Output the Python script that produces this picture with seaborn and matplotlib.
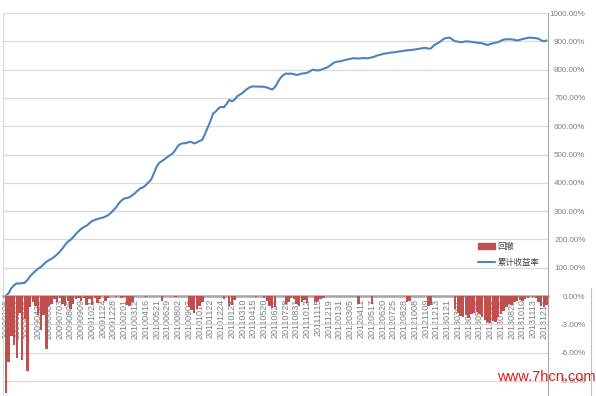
import numpy as np
import pandas as pd
import seaborn as sns
import matplotlib.pyplot as plt
from matplotlib.lines import Line2D
from matplotlib.patches import Patch
from matplotlib.ticker import FuncFormatter

# cumulative return (%) sampled every ~6 trading days, 2009-01 .. 2013-12
cum_return = [
    2, 10, 28, 38, 45, 44, 46, 47, 57, 70,
    80, 89, 97, 103, 112, 121, 127, 132, 139, 147,
    157, 168, 181, 192, 199, 208, 220, 229, 238, 244,
    249, 257, 265, 269, 272, 275, 277, 281, 286, 294,
    304, 314, 328, 338, 345, 346, 350, 356, 364, 373,
    381, 384, 392, 402, 412, 434, 457, 471, 477, 484,
    491, 498, 504, 517, 531, 538, 540, 540, 545, 544,
    539, 543, 548, 552, 573, 596, 618, 645, 652, 663,
    669, 667, 678, 693, 688, 694, 706, 712, 718, 727,
    734, 739, 741, 740, 740, 740, 739, 737, 733, 730,
    738, 755, 770, 780, 786, 785, 786, 784, 781, 783,
    786, 787, 789, 794, 800, 798, 797, 799, 803, 806,
    811, 818, 825, 828, 829, 831, 834, 836, 838, 840,
    840, 839, 840, 841, 840, 841, 843, 846, 850, 852,
    855, 857, 858, 860, 861, 862, 864, 865, 867, 868,
    869, 870, 871, 873, 874, 876, 877, 874, 875, 885,
    891, 896, 903, 910, 912, 913, 906, 900, 899, 897,
    898, 900, 899, 898, 897, 895, 894, 893, 890, 887,
    890, 893, 895, 897, 902, 906, 907, 907, 907, 905,
    903, 905, 908, 910, 912, 913, 912, 911, 909, 903,
    900, 903,
]

# drawdown (%) on the same sampling
drawdown = [
    -10.3, -7.0, -4.2, -5.2, -6.6, -1.8, -6.8, -2.4, -7.9, -1.2,
    -0.6, -1.0, -2.0, -3.6, -2.0, -5.6, -1.0, -0.8, -0.3, -0.6,
    -0.2, -0.8, -1.0, -0.5, -1.4, -0.8, -0.3, -0.2, -0.5, -0.2,
    -0.9, -0.3, -0.9, -0.2, -0.7, -0.3, 0, -0.5, -0.2, 0,
    0, -0.1, 0, -0.2, -0.1, -0.9, -1.1, -0.6, 0, 0,
    0, 0, -0.1, 0, 0, 0, 0, 0, -0.5, 0,
    0, 0, 0, -0.1, 0, 0, 0, 0, -1.2, -1.5,
    -1.8, -1.4, -1.0, -0.6, 0, 0, 0, 0, 0, 0,
    0, -0.3, 0, -1.0, -0.9, -0.4, 0, 0, 0, 0,
    0, 0, 0, -0.1, 0, 0, -0.2, -0.5, -1.0, -1.3,
    -1.2, 0, 0, 0, -0.8, -0.6, -0.2, -0.3, -0.8, -1.0,
    -0.6, -0.4, -0.7, 0, 0, -0.6, -0.5, -0.3, -0.2, 0,
    0, 0, 0, 0, 0, 0, 0, 0, 0, 0,
    0, -0.8, 0, 0, 0, 0, -0.8, 0, 0, 0,
    0, 0, 0, 0, 0, 0, 0, 0, 0, -0.6,
    -0.5, 0, 0, 0, 0, 0, 0, -1.1, -0.9, 0,
    0, 0, 0, 0, 0, 0, 0, -1.4, -1.8, -2.1,
    -2.2, -2.0, -2.3, -1.9, -1.8, -1.7, -1.9, -2.2, -2.5, -2.7,
    -2.9, -2.6, -2.8, -2.2, -1.9, -1.6, -1.2, -0.8, -0.9, -0.6,
    -0.5, -0.4, -0.5, -0.3, -0.2, 0, -0.1, -0.2, -0.6, -1.0,
    -1.2, -0.9,
]

date_labels = [
    "20090105", "20090213", "20090319", "20090423", "20090603", "20090703",
    "20090806", "20090909", "20091021", "20091124", "20091228",
    "20100201", "20100312", "20100416", "20100521", "20100629", "20100802",
    "20100903", "20101014", "20101122", "20101224",
    "20110128", "20110310", "20110415", "20110520", "20110624", "20110728",
    "20110831", "20111012", "20111115", "20111219",
    "20120131", "20120305", "20120411", "20120517", "20120620", "20120725",
    "20120828", "20121008", "20121109", "20121213",
    "20130121", "20130301", "20130408", "20130515", "20130621", "20130726",
    "20130828", "20131010", "20131113", "20131217",
]

series_names = ["回撤", "累计收益率"]

RED = "#C0504D"
BLUE = "#4F81BD"
GRID = "#D9D9D9"
TXT = "#7F7F7F"

sns.set_style("white")
plt.rcParams['font.family'] = ['Liberation Sans', 'Noto Sans CJK SC', 'DejaVu Sans']

df = pd.DataFrame({'idx': np.arange(len(cum_return)), 'cum': cum_return, 'dd': drawdown})

fig = plt.figure(figsize=(5.96, 3.96), dpi=100)
ax = fig.add_axes([3 / 596, 0, 545 / 596, 383 / 396])
ax2 = ax.twinx()

sns.lineplot(data=df, x='idx', y='cum', color=BLUE, lw=1.5, ax=ax)
sns.barplot(data=df, x='idx', y='dd', native_scale=True, width=0.9, color=RED,
            saturation=1, linewidth=0, errorbar=None, ax=ax2)

ax.set_xlim(-1.1, 201.5)
ax.set_ylim(-353, 1000)
ax2.set_ylim(-353 * 0.03, 30)

# line axis: gridlines every 100%, labels only for positive values
ax.set_yticks(np.arange(-300, 1001, 100))
ax.yaxis.set_major_formatter(FuncFormatter(lambda v, p: f"{v:.2f}%" if v > 0 else ""))
ax.yaxis.grid(True, color=GRID, lw=0.9)
ax.xaxis.grid(False)
ax.yaxis.tick_right()
ax.tick_params(axis='y', length=0, pad=27, labelsize=5.8, labelcolor=TXT)
for lab in ax.get_yticklabels():
    lab.set_horizontalalignment('right')

# drawdown axis labels
ax2.set_yticks([0, -3, -6, -9])
ax2.set_yticklabels(["0.00%", "-3.00%", "-6.00%", "-9.00%"])
ax2.grid(False)
ax2.tick_params(axis='y', length=0, pad=27, labelsize=5.8, labelcolor=TXT)
for lab in ax2.get_yticklabels():
    lab.set_horizontalalignment('right')

# category axis sits on the zero line
ax.set_xticks(df['idx'][::4])
ax.set_xticklabels(date_labels)
ax.tick_params(axis='x', length=0, pad=2, labelsize=6.5, labelcolor=TXT, labelrotation=90)
ax.spines['bottom'].set_position(('data', 0))
ax.spines['bottom'].set_color('#A6A6A6')
ax.spines['bottom'].set_linewidth(1.8)
ax.spines['top'].set_visible(False)
ax.spines['left'].set_color(GRID)
ax.spines['right'].set_color('#A6A6A6')
for s in ax2.spines.values():
    s.set_visible(False)
ax.set_xlabel('')
ax.set_ylabel('')
ax2.set_ylabel('')

handles = [Patch(color=RED, label=series_names[0]),
           Line2D([], [], color=BLUE, lw=1.5, label=series_names[1])]
fig.legend(handles=handles, loc='upper left', bbox_to_anchor=(478 / 596, 1 - 243 / 396),
           frameon=False, fontsize=6, handlelength=2, handletextpad=0.3,
           labelspacing=0.9, borderpad=0, borderaxespad=0, labelcolor='#404040')

fig.add_artist(Line2D([591 / 596, 591 / 596], [0, 1 - 288 / 396], color='#BFBFBF',
                      lw=0.8, transform=fig.transFigure))
fig.text(497 / 596, 1 - 381 / 396, "www.7hcn.com", color='#E01B1B', fontsize=10.5,
         va='baseline', zorder=10)

fig.savefig('out.png', dpi=100)
plt.close()
